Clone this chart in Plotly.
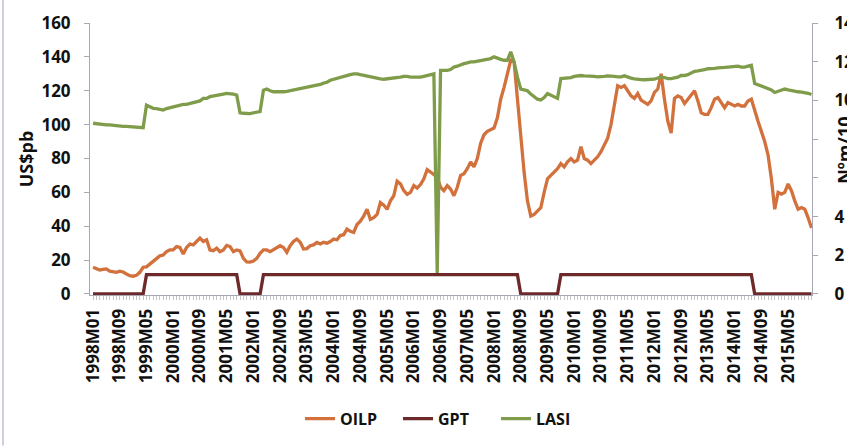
import plotly.graph_objects as go

# Monthly categories 1998M01 .. 2015M12
years = list(range(1998, 2016))
months = [f"{y}M{m:02d}" for y in years for m in range(1, 13)]
idx = list(range(len(months)))

# Oil price, US$ per barrel (one row per year, Jan..Dec)
oilp = [
    15.8, 15.0, 14.2, 14.5, 14.8, 13.5, 13.0, 12.8, 13.5, 13.0, 11.8, 10.8,    # 1998
    10.5, 11.0, 12.8, 15.8, 16.0, 17.5, 19.5, 20.7, 22.5, 23.0, 25.0, 26.0,    # 1999
    26.0, 28.0, 27.5, 23.6, 27.5, 29.5, 29.0, 31.0, 33.0, 31.0, 32.0, 26.0,    # 2000
    25.6, 27.0, 25.0, 26.0, 28.7, 28.0, 25.0, 26.0, 25.5, 21.0, 19.0, 18.8,    # 2001
    19.5, 21.0, 24.0, 26.0, 26.0, 25.0, 26.0, 27.0, 28.5, 27.5, 24.6, 28.5,    # 2002
    31.0, 32.4, 30.5, 26.6, 26.8, 28.5, 29.0, 30.5, 29.5, 30.5, 30.0, 31.0,    # 2003
    32.4, 32.0, 34.5, 35.0, 38.3, 37.0, 36.3, 41.0, 43.0, 46.0, 50.0, 44.0,    # 2004
    45.0, 47.0, 54.0, 52.5, 50.0, 55.0, 58.0, 66.6, 65.0, 61.0, 58.8, 60.0,    # 2005
    64.0, 62.5, 64.6, 68.0, 73.4, 72.0, 70.5, 69.0, 63.0, 61.0, 64.0, 62.0,    # 2006
    58.0, 63.0, 70.0, 71.0, 74.0, 78.0, 75.0, 80.0, 89.0, 94.0, 96.0, 97.0,    # 2007
    98.0, 104.0, 115.0, 122.0, 130.0, 138.0, 137.0, 114.0, 94.0, 72.0, 55.0, 46.0,  # 2008
    47.0, 49.0, 51.0, 60.0, 68.0, 70.0, 72.0, 74.0, 77.0, 75.0, 78.0, 80.0,    # 2009
    78.0, 79.0, 87.0, 80.0, 79.0, 77.0, 79.0, 81.0, 84.0, 88.0, 92.0, 100.0,   # 2010
    112.0, 123.0, 122.0, 123.0, 120.0, 117.0, 115.5, 118.4, 114.5, 113.0, 112.0, 114.0,  # 2011
    119.0, 121.0, 130.0, 115.0, 102.0, 95.0, 115.5, 117.0, 116.0, 112.5, 115.0, 117.0,   # 2012
    120.0, 114.0, 107.0, 106.0, 106.0, 110.0, 115.0, 116.0, 113.0, 110.0, 113.0, 112.0,  # 2013
    111.0, 112.0, 111.0, 111.0, 114.0, 115.0, 108.0, 102.0, 96.0, 90.0, 82.0, 68.0,      # 2014
    50.0, 60.0, 59.0, 60.0, 65.0, 61.0, 55.0, 50.0, 51.0, 50.0, 45.0, 39.0,    # 2015
]

# GPT indicator (0/1), right axis
gpt = [
    0, 0, 0, 0, 0, 0, 0, 0, 0, 0, 0, 0,    # 1998
    0, 0, 0, 0, 1, 1, 1, 1, 1, 1, 1, 1,    # 1999
    1, 1, 1, 1, 1, 1, 1, 1, 1, 1, 1, 1,    # 2000
    1, 1, 1, 1, 1, 1, 1, 1, 0, 0, 0, 0,    # 2001
    0, 0, 0, 1, 1, 1, 1, 1, 1, 1, 1, 1,    # 2002
    1, 1, 1, 1, 1, 1, 1, 1, 1, 1, 1, 1,    # 2003
    1, 1, 1, 1, 1, 1, 1, 1, 1, 1, 1, 1,    # 2004
    1, 1, 1, 1, 1, 1, 1, 1, 1, 1, 1, 1,    # 2005
    1, 1, 1, 1, 1, 1, 1, 1, 1, 1, 1, 1,    # 2006
    1, 1, 1, 1, 1, 1, 1, 1, 1, 1, 1, 1,    # 2007
    1, 1, 1, 1, 1, 1, 1, 1, 0, 0, 0, 0,    # 2008
    0, 0, 0, 0, 0, 0, 0, 0, 1, 1, 1, 1,    # 2009
    1, 1, 1, 1, 1, 1, 1, 1, 1, 1, 1, 1,    # 2010
    1, 1, 1, 1, 1, 1, 1, 1, 1, 1, 1, 1,    # 2011
    1, 1, 1, 1, 1, 1, 1, 1, 1, 1, 1, 1,    # 2012
    1, 1, 1, 1, 1, 1, 1, 1, 1, 1, 1, 1,    # 2013
    1, 1, 1, 1, 1, 1, 0, 0, 0, 0, 0, 0,    # 2014
    0, 0, 0, 0, 0, 0, 0, 0, 0, 0, 0, 0,    # 2015
]

# LASI index, left axis
lasi = [
    100.8, 100.5, 100.2, 100.0, 99.8, 99.8, 99.5, 99.3, 99.2, 99.0, 99.0, 98.8,      # 1998
    98.6, 98.5, 98.3, 98.2, 111.5, 110.5, 109.6, 109.5, 109.0, 108.6, 109.5, 110.0,  # 1999
    110.6, 111.0, 111.5, 112.0, 112.0, 112.5, 113.0, 113.5, 114.0, 115.5, 115.5, 116.5,  # 2000
    117.0, 117.0, 117.5, 118.0, 118.4, 118.4, 118.0, 117.4, 107.0, 106.7, 106.5, 106.5,  # 2001
    107.0, 107.2, 107.7, 120.3, 121.0, 120.0, 119.4, 119.4, 119.2, 119.4, 119.6, 120.0,  # 2002
    120.5, 121.0, 121.3, 121.5, 122.0, 122.3, 122.8, 123.2, 123.7, 124.5, 125.0, 126.2,  # 2003
    126.8, 127.5, 128.0, 128.5, 129.0, 129.5, 130.0, 130.0, 129.5, 129.0, 128.5, 128.0,  # 2004
    127.5, 127.0, 127.0, 126.8, 127.0, 127.0, 127.5, 127.5, 128.0, 128.5, 128.5, 128.0,  # 2005
    128.0, 128.0, 128.0, 128.5, 129.0, 129.5, 130.0, 12.0, 132.0, 132.0, 132.0, 132.5,   # 2006
    134.0, 134.5, 135.4, 136.0, 136.5, 137.0, 137.0, 137.5, 138.0, 138.0, 138.5, 139.0,  # 2007
    140.0, 139.0, 138.5, 138.0, 138.0, 143.0, 137.0, 128.0, 121.0, 120.5, 120.0, 118.0,  # 2008
    116.5, 115.0, 114.5, 116.0, 118.4, 117.5, 116.5, 115.5, 127.2, 127.4, 127.6, 127.8,  # 2009
    128.5, 129.0, 129.0, 128.8, 128.8, 128.5, 128.5, 128.2, 128.2, 128.5, 128.8, 128.8,  # 2010
    128.5, 128.2, 128.2, 128.8, 128.0, 127.5, 127.0, 126.6, 126.6, 126.5, 126.6, 126.6,  # 2011
    126.8, 127.5, 128.2, 127.8, 127.2, 127.2, 127.5, 128.0, 129.0, 129.0, 129.5, 130.5,  # 2012
    131.5, 131.8, 132.0, 132.5, 133.0, 133.0, 133.2, 133.5, 133.5, 133.8, 134.0, 134.3,  # 2013
    134.6, 134.5, 134.0, 134.0, 134.5, 135.0, 124.3, 123.5, 123.0, 122.3, 121.5, 120.5,  # 2014
    119.0, 119.5, 120.5, 121.0, 120.5, 120.0, 119.4, 119.4, 119.2, 119.0, 118.5, 117.8,  # 2015
]

# Axis ticks
x_tick_step = 8
left_ticks = [0, 20, 40, 60, 80, 100, 120, 140, 160]
right_ticks = [0, 2, 4, 6, 8, 10, 12, 14]

C_OILP = "#D3713D"
C_GPT = "#6E2A2A"
C_LASI = "#7F9C4A"
AXIS = "#A8A8B4"
INK = "#111111"
FONT = "Open Sans"

fig = go.Figure()
fig.add_trace(go.Scatter(x=idx, y=oilp, name="OILP", mode="lines",
                         line=dict(color=C_OILP, width=3.3)))
fig.add_trace(go.Scatter(x=idx, y=gpt, name="GPT", mode="lines", yaxis="y2",
                         line=dict(color=C_GPT, width=3.3)))
fig.add_trace(go.Scatter(x=idx, y=lasi, name="LASI", mode="lines",
                         line=dict(color=C_LASI, width=3.3)))

tick_font = dict(family=FONT, size=17, color=INK, weight="bold")

fig.update_layout(
    width=847, height=448, autosize=False,
    margin=dict(l=90, r=35, t=23, b=151, pad=0),
    paper_bgcolor="white", plot_bgcolor="white",
    showlegend=True,
    legend=dict(orientation="h", x=(300 - 90) / 722, xanchor="left", y=-0.455,
                yanchor="middle",
                font=dict(family=FONT, size=16, color=INK, weight="bold"),
                itemwidth=30, entrywidth=53, entrywidthmode="pixels",
                traceorder="normal", bgcolor="rgba(0,0,0,0)"),
    xaxis=dict(
        range=[-0.9, 215.15], showgrid=False, zeroline=False, automargin=False,
        showline=True, linecolor=AXIS, linewidth=1,
        tickmode="array", tickvals=idx[::x_tick_step], ticktext=months[::x_tick_step],
        tickangle=-90, tickfont=dict(family=FONT, size=17, color=INK, weight="bold"),
        ticks="outside", ticklen=0, ticklabelstandoff=6,
        minor=dict(ticks="outside", ticklen=4, tickcolor="#C4C4C4", tickmode="linear",
                   tick0=0, dtick=1),
    ),
    yaxis=dict(
        range=[-0.6, 160], tickmode="array", tickvals=left_ticks, automargin=False,
        showgrid=False, zeroline=False, showline=True, linecolor=AXIS, linewidth=1,
        ticks="outside", ticklen=5, tickcolor=AXIS, ticklabelstandoff=10,
        tickfont=tick_font,
        title=dict(text="US$pb", font=dict(family=FONT, size=18, color=INK,
                                           weight="bold"), standoff=3),
    ),
    yaxis2=dict(
        range=[-0.0525, 14], overlaying="y", side="right", tickmode="array",
        tickvals=right_ticks, showgrid=False, zeroline=False, showline=True,
        automargin=False,
        linecolor=AXIS, linewidth=1, ticks="outside", ticklen=5, tickcolor=AXIS,
        ticklabelstandoff=13, tickfont=tick_font,
    ),
)

# Right axis title, partly running off the page edge
fig.add_annotation(
    text="Nºm/10", xref="paper", yref="paper", x=(844 - 90) / 722, y=0.53,
    xanchor="center", yanchor="middle", textangle=-90, showarrow=False,
    bgcolor="white",
    font=dict(family=FONT, size=18, color=INK, weight="bold"),
)

# Thin frame line along the left edge of the page
fig.add_shape(type="line", xref="paper", yref="paper",
              x0=(3 - 90) / 722, x1=(3 - 90) / 722, y0=-151 / 273, y1=(297 + 0) / 273,
              line=dict(color="#A0A0B8", width=1))

fig.write_html("out.html")
